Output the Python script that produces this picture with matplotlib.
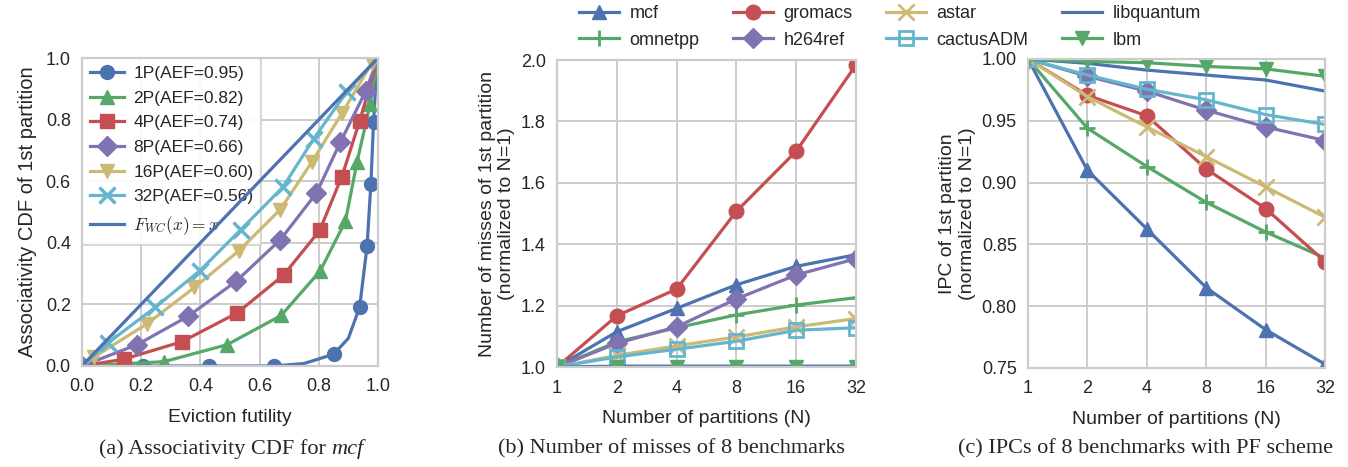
import numpy as np
import matplotlib
matplotlib.use("Agg")
import matplotlib.pyplot as plt

plt.rcParams['font.family'] = ['Liberation Sans', 'DejaVu Sans']
plt.rcParams['font.size'] = 13
plt.rcParams['mathtext.fontset'] = 'cm'
plt.rcParams['text.color'] = '#262626'
plt.rcParams['axes.labelcolor'] = '#262626'
plt.rcParams['xtick.color'] = '#262626'
plt.rcParams['ytick.color'] = '#262626'
plt.rcParams['axes.edgecolor'] = '#cccccc'
plt.rcParams['axes.linewidth'] = 1.6
plt.rcParams['grid.color'] = '#cccccc'
plt.rcParams['grid.linewidth'] = 1.4
plt.rcParams['xtick.major.size'] = 0
plt.rcParams['ytick.major.size'] = 0

blue = '#4C72B0'
green = '#55A868'
red = '#C44E52'
purple = '#8172B2'
yellow = '#CCB974'
cyan = '#64B5CD'

# (a) associativity CDF for mcf
cdf_labels = ["1P(AEF=0.95)", "2P(AEF=0.82)", "4P(AEF=0.74)",
              "8P(AEF=0.66)", "16P(AEF=0.60)", "32P(AEF=0.56)"]
cdf_x = [
    [0.0, 0.206, 0.428, 0.648, 0.75, 0.85, 0.90, 0.938, 0.963, 0.976, 0.985, 0.993, 1.0],
    [0.0, 0.277, 0.490, 0.673, 0.805, 0.890, 0.929, 0.974, 1.0],
    [0.0, 0.141, 0.338, 0.524, 0.681, 0.803, 0.878, 0.938, 1.0],
    [0.0, 0.186, 0.358, 0.521, 0.670, 0.792, 0.873, 0.959, 1.0],
    [0.0, 0.042, 0.220, 0.380, 0.530, 0.670, 0.777, 0.878, 0.980, 1.0],
    [0.0, 0.088, 0.247, 0.399, 0.537, 0.679, 0.783, 0.895, 1.0],
]
cdf_y = [
    [0.0, 0.0, 0.0, 0.0, 0.008, 0.038, 0.09, 0.191, 0.388, 0.590, 0.792, 0.92, 1.0],
    [0.0, 0.014, 0.069, 0.164, 0.309, 0.470, 0.661, 0.852, 1.0],
    [0.0, 0.022, 0.079, 0.172, 0.295, 0.440, 0.615, 0.795, 1.0],
    [0.0, 0.069, 0.161, 0.275, 0.410, 0.561, 0.727, 0.893, 1.0],
    [0.0, 0.030, 0.137, 0.255, 0.374, 0.508, 0.663, 0.820, 0.985, 1.0],
    [0.0, 0.075, 0.190, 0.310, 0.443, 0.581, 0.738, 0.891, 1.0],
]
cdf_marks = [[0, 1, 2, 3, 5, 7, 8, 9, 10], None, None, None,
             slice(1, None), slice(1, None)]
wc_x = [0.0, 1.0]

# (b), (c) benchmarks vs number of partitions
partitions = [1, 2, 4, 8, 16, 32]
benchmarks = ["mcf", "omnetpp", "gromacs", "h264ref",
              "astar", "cactusADM", "libquantum", "lbm"]
misses = {
    "mcf":        [1.0, 1.115, 1.191, 1.268, 1.328, 1.366],
    "omnetpp":    [1.0, 1.082, 1.128, 1.170, 1.202, 1.226],
    "gromacs":    [1.0, 1.167, 1.254, 1.507, 1.703, 1.984],
    "h264ref":    [1.0, 1.077, 1.131, 1.222, 1.300, 1.353],
    "astar":      [1.0, 1.038, 1.069, 1.098, 1.131, 1.158],
    "cactusADM":  [1.0, 1.033, 1.058, 1.084, 1.120, 1.128],
    "libquantum": [1.0, 1.003, 1.003, 1.003, 1.003, 1.003],
    "lbm":        [1.0, 1.0, 1.0, 1.0, 1.0, 1.0],
}
ipc = {
    "mcf":        [1.0, 0.910, 0.8625, 0.815, 0.781, 0.753],
    "omnetpp":    [1.0, 0.944, 0.913, 0.884, 0.860, 0.839],
    "gromacs":    [1.0, 0.9706, 0.954, 0.911, 0.879, 0.836],
    "h264ref":    [1.0, 0.986, 0.974, 0.9586, 0.945, 0.934],
    "astar":      [1.0, 0.9695, 0.945, 0.921, 0.8965, 0.872],
    "cactusADM":  [1.0, 0.987, 0.9755, 0.967, 0.955, 0.947],
    "libquantum": [1.0, 0.9965, 0.991, 0.987, 0.983, 0.974],
    "lbm":        [1.0, 0.998, 0.997, 0.994, 0.992, 0.986],
}

cdf_styles = [(blue, 'o'), (green, '^'), (red, 's'),
              (purple, 'D'), (yellow, 'v'), (cyan, 'x')]
bench_styles = {
    "mcf":        dict(color=blue, marker='^'),
    "omnetpp":    dict(color=green, marker='+', markeredgewidth=2, markersize=12),
    "gromacs":    dict(color=red, marker='o'),
    "h264ref":    dict(color=purple, marker='D'),
    "astar":      dict(color=yellow, marker='x', markeredgewidth=2, markersize=12),
    "cactusADM":  dict(color=cyan, marker='s', markerfacecolor='none', markeredgewidth=2),
    "libquantum": dict(color=blue, marker=''),
    "lbm":        dict(color=green, marker='v'),
}

fig = plt.figure(figsize=(13.48, 4.67), dpi=100)
ax_a = fig.add_axes([0.0608, 0.2163, 0.2196, 0.6595])
ax_b = fig.add_axes([0.4132, 0.2140, 0.2218, 0.6575])
ax_c = fig.add_axes([0.7626, 0.2120, 0.2204, 0.6617])

# panel a
for xs, ys, lab, (col, mk), me in zip(cdf_x, cdf_y, cdf_labels, cdf_styles, cdf_marks):
    mew = 2.5 if mk == 'x' else 1
    ms = 12 if mk == 'x' else 10
    ax_a.plot(xs, ys, color=col, marker=mk, markevery=me, markersize=ms,
              markeredgewidth=mew, markeredgecolor=col, linewidth=2.3, label=lab)
ax_a.plot(wc_x, wc_x, color=blue, linewidth=2.3, label=r"$F_{WC}(x)=x$")
ax_a.set_xlim(0, 1)
ax_a.set_ylim(0, 1)
ax_a.set_xticks(np.arange(0, 1.01, 0.2))
ax_a.set_yticks(np.arange(0, 1.01, 0.2))
ax_a.set_xticklabels(["%.1f" % v for v in np.arange(0, 1.01, 0.2)])
ax_a.set_yticklabels(["%.1f" % v for v in np.arange(0, 1.01, 0.2)])
ax_a.set_xlabel("Eviction futility", fontsize=14, labelpad=10)
ax_a.set_ylabel("Associativity CDF of 1st partition", fontsize=14.5, labelpad=6)
leg = ax_a.legend(loc='upper left', fontsize=12.5, borderaxespad=0, handlelength=2.0,
                  handletextpad=0.5, labelspacing=0.55, fancybox=False,
                  framealpha=0.9, edgecolor='#cccccc', borderpad=0.45)
leg.get_frame().set_linewidth(1.2)
leg.set_zorder(1.5)

# panels b and c
for ax, data in ((ax_b, misses), (ax_c, ipc)):
    for name in benchmarks:
        st = dict(markersize=10.5, linewidth=2.3)
        st.update(bench_styles[name])
        ax.plot(partitions, data[name], label=name, **st)
    ax.set_xscale('log', base=2)
    ax.set_xlim(1, 32)
    ax.set_xticks(partitions)
    ax.set_xticklabels([str(p) for p in partitions])
    ax.minorticks_off()
    ax.set_xlabel("Number of partitions (N)", fontsize=14, labelpad=10)

ax_b.set_ylim(1.0, 2.0)
ax_b.set_yticks(np.arange(1.0, 2.01, 0.2))
ax_b.set_yticklabels(["%.1f" % v for v in np.arange(1.0, 2.01, 0.2)])
ax_b.set_ylabel("Number of misses of 1st partition\n(normalized to N=1)", fontsize=14)
ax_c.set_ylim(0.75, 1.0)
ax_c.set_yticks(np.arange(0.75, 1.001, 0.05))
ax_c.set_yticklabels(["%.2f" % v for v in np.arange(0.75, 1.001, 0.05)])
ax_c.set_ylabel("IPC of 1st partition\n(normalized to N=1)", fontsize=14)

for ax in (ax_a, ax_b, ax_c):
    ax.grid(True)
    ax.set_axisbelow(True)
    ax.tick_params(axis='x', pad=9)
    ax.tick_params(axis='y', pad=8)

handles, labels = ax_b.get_legend_handles_labels()
fig.legend(handles, labels, ncol=4, loc='upper left', bbox_to_anchor=(0.4215, 1.012),
           frameon=False, fontsize=13, handlelength=2.2, handletextpad=0.6,
           columnspacing=1.85, labelspacing=0.52, borderpad=0.1)

# captions (serif, with italic mcf)
serif = ['Liberation Serif', 'DejaVu Serif']
cap_y = 0.038
cap_size = 16
renderer = fig.canvas.get_renderer()
t1 = fig.text(0, cap_y, "(a) Associativity CDF for ", family=serif, fontsize=cap_size, va='center')
t2 = fig.text(0, cap_y, "mcf", family=serif, fontsize=cap_size, style='italic', va='center')
w1 = t1.get_window_extent(renderer).width / fig.bbox.width
w2 = t2.get_window_extent(renderer).width / fig.bbox.width
cx = 231 / 1348
t1.set_x(cx - (w1 + w2) / 2)
t2.set_x(cx - (w1 + w2) / 2 + w1)
fig.text(671 / 1348, cap_y, "(b) Number of misses of 8 benchmarks",
         family=serif, fontsize=cap_size, ha='center', va='center')
fig.text(1145 / 1348, cap_y, "(c) IPCs of 8 benchmarks with PF scheme",
         family=serif, fontsize=cap_size, ha='center', va='center')

fig.savefig("out.png", dpi=100)
